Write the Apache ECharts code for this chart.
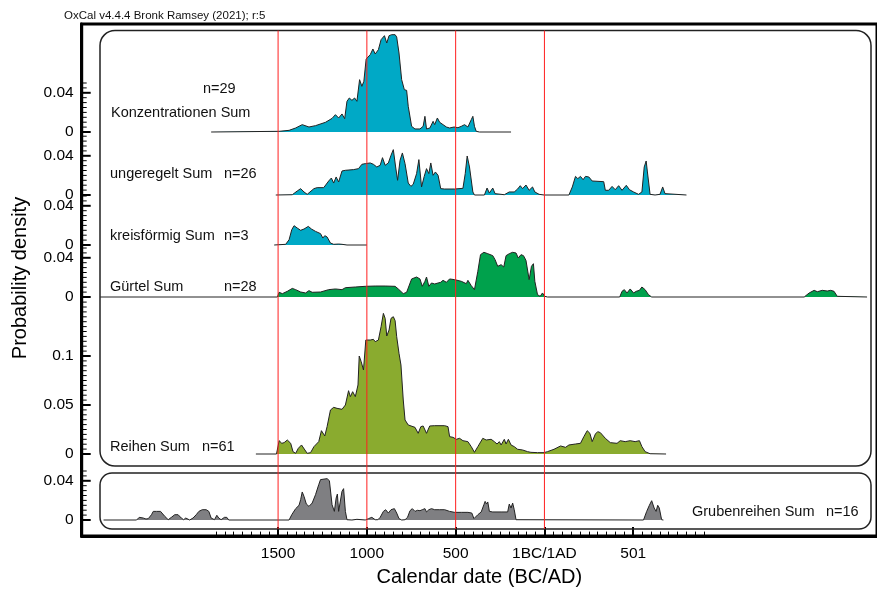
<!DOCTYPE html>
<html><head><meta charset="utf-8">
<script src="https://cdn.jsdelivr.net/npm/echarts@6/dist/echarts.min.js"></script>
<style>html,body{margin:0;padding:0;background:#fff}#c{width:877px;height:592px}</style>
</head><body><div id="c"></div>
<script>
// ---------- DATA (years: negative = BC, positive = AD; values: probability density) ----------
const konzYears = [-1877,-1494,-1438,-1401,-1364,-1326,-1289,-1233,-1196,-1177,-1159,-1140,-1125,-1112,-1099,-1084,-1069,-1056,-1041,-1028,-1017,-1004,-981,-966,-953,-935,-920,-901,-888,-875,-860,-841,-832,-819,-804,-789,-776,-767,-748,-729,-701,-683,-673,-664,-645,-627,-618,-603,-590,-571,-552,-534,-509,-487,-468,-450,-431,-412,-403,-394,-384,-366,-188];
const konzValues = [0,0.0007,0.0017,0.0041,0.0075,0.0051,0.0065,0.0099,0.0139,0.0177,0.0143,0.0184,0.0136,0.0313,0.0347,0.0323,0.0347,0.0313,0.0534,0.0466,0.0517,0.0745,0.0789,0.0847,0.0796,0.084,0.0942,0.0983,0.0908,0.0983,0.0993,0.0993,0.0969,0.0806,0.0534,0.0432,0.0425,0.0262,0.0058,0.0031,0.0031,0.0058,0.016,0.0031,0.0041,0.0109,0.0075,0.0143,0.0099,0.0075,0.0051,0.0041,0.0051,0.0044,0.0058,0.0075,0.0051,0.0126,0.016,0.0058,0.0007,0,0];

const ungYears = [-1513,-1420,-1392,-1373,-1354,-1336,-1298,-1280,-1243,-1215,-1200,-1187,-1173,-1159,-1140,-1121,-1075,-1047,-1028,-1009,-981,-963,-944,-925,-912,-897,-879,-864,-851,-838,-827,-813,-800,-785,-767,-752,-739,-720,-707,-692,-677,-664,-651,-640,-627,-614,-599,-584,-562,-506,-459,-446,-435,-422,-403,-394,-338,-323,-310,-291,-278,-226,-198,-170,-151,-136,-123,-104,-86,-67,-54,-30,-2,138,157,175,188,203,218,231,250,269,334,343,362,381,399,418,437,461,479,502,530,549,562,573,580,595,623,651,666,679,688,800];
const ungValues = [0,0.0003,0.0041,0.0065,0.0031,0.0007,0.0065,0.0075,0.0075,0.0143,0.0173,0.0122,0.0184,0.0133,0.0245,0.0252,0.0259,0.0269,0.0313,0.032,0.0327,0.0313,0.0286,0.0303,0.0381,0.0303,0.0327,0.0405,0.0463,0.0286,0.015,0.0354,0.0429,0.032,0.0122,0.0088,0.0109,0.0218,0.0361,0.0082,0.019,0.0269,0.0218,0.0327,0.0201,0.0235,0.0201,0.0065,0.0061,0.0061,0.0068,0.0218,0.0398,0.0286,0.0031,0,0,0.0071,0.002,0.0071,0.0014,0.0003,0.0031,0.0031,0.0061,0.0095,0.0065,0.0102,0.0048,0.0082,0.0031,0.0007,0,0,0.0082,0.019,0.0167,0.019,0.0156,0.019,0.0184,0.0143,0.0136,0.0048,0.0048,0.0088,0.0054,0.0095,0.0048,0.0099,0.0054,0.0031,0.0007,0.0031,0.0286,0.0347,0.0235,0.0007,0,0.0007,0.0082,0.0014,0,0];

const kreisYears = [-1522,-1457,-1438,-1423,-1410,-1392,-1373,-1354,-1330,-1312,-1289,-1261,-1248,-1237,-1224,-1205,-1187,-1159,-1140,-1131,-1112,-1000];
const kreisValues = [0,0.0007,0.0054,0.0156,0.0197,0.0173,0.015,0.0163,0.019,0.0163,0.0139,0.0116,0.0071,0.0095,0.0082,0.002,0.0007,0.001,0.0007,0.0017,0,0];

const guertelYears = [-2502,-1504,-1494,-1476,-1448,-1420,-1401,-1373,-1345,-1326,-1308,-1261,-1215,-1177,-1140,-1121,-1065,-1009,-953,-897,-841,-823,-795,-776,-748,-720,-701,-688,-673,-664,-651,-636,-618,-599,-584,-571,-552,-534,-506,-468,-440,-431,-412,-394,-375,-360,-341,-319,-291,-278,-263,-244,-229,-216,-198,-179,-160,-147,-132,-118,-104,-86,-73,-62,-54,-39,-24,-11,2,17,424,437,450,465,483,502,517,535,549,567,586,604,1463,1491,1519,1537,1565,1593,1612,1631,1640,1649,1659,1817];
const guertelValues = [0,0,0.0048,0.0034,0.0058,0.0088,0.0075,0.0051,0.0041,0.0065,0.0048,0.0051,0.0075,0.0082,0.0075,0.0095,0.0102,0.0109,0.0112,0.0112,0.0109,0.0082,0.0034,0.0048,0.0184,0.0204,0.0184,0.0109,0.016,0.0204,0.0109,0.0143,0.0133,0.0143,0.015,0.017,0.015,0.0184,0.0177,0.016,0.0136,0.017,0.0116,0.0075,0.0262,0.0432,0.0456,0.0442,0.0422,0.0381,0.0313,0.033,0.0306,0.0422,0.0442,0.0456,0.0449,0.0398,0.0432,0.0422,0.0374,0.0177,0.0313,0.034,0.016,0.0024,0.0007,0.0041,0.0007,0,0,0.0058,0.0075,0.0041,0.0082,0.0041,0.0058,0.0068,0.0102,0.0075,0.0024,0,0,0.0041,0.0068,0.0054,0.0068,0.0061,0.0068,0.0058,0.0068,0.0007,0,0];

const reihenYears = [-1625,-1509,-1494,-1479,-1466,-1448,-1429,-1416,-1401,-1386,-1368,-1349,-1336,-1317,-1298,-1271,-1256,-1237,-1224,-1205,-1187,-1168,-1140,-1121,-1103,-1093,-1080,-1065,-1050,-1043,-1032,-1019,-1006,-981,-963,-953,-935,-920,-907,-897,-888,-875,-864,-851,-841,-832,-819,-808,-795,-785,-767,-729,-711,-696,-683,-664,-655,-646,-618,-562,-543,-534,-515,-496,-478,-459,-431,-412,-394,-375,-347,-328,-300,-282,-267,-254,-244,-226,-216,-203,-188,-170,-151,-123,-95,-76,-39,-2,17,54,91,119,138,175,203,222,241,256,269,287,300,315,343,371,409,427,455,483,511,535,549,567,595,685];
const reihenValues = [0,0,0.0136,0.0109,0.0116,0.0143,0.0109,0.0024,0.0007,0.0058,0.0092,0.0041,0.0007,0.0014,0.0075,0.0126,0.0238,0.0184,0.0279,0.0449,0.0476,0.0466,0.0456,0.05,0.0646,0.0585,0.0636,0.0585,0.0704,0.1,0.0942,0.0857,0.1163,0.1163,0.117,0.1146,0.1163,0.1299,0.1435,0.1384,0.1204,0.1265,0.1384,0.1401,0.1361,0.1197,0.1027,0.0908,0.0551,0.0347,0.0296,0.0272,0.0211,0.0279,0.0286,0.0211,0.0194,0.0286,0.0289,0.0289,0.0279,0.0177,0.017,0.015,0.016,0.0136,0.0126,0.0075,0.0017,0.0075,0.016,0.0143,0.015,0.0126,0.0102,0.0126,0.0092,0.015,0.0102,0.015,0.0092,0.0075,0.0048,0.0041,0.0024,0.0017,0.0014,0.0014,0.0024,0.0048,0.0082,0.0068,0.0092,0.0102,0.0109,0.0177,0.0238,0.0211,0.0126,0.0204,0.0228,0.0218,0.016,0.0116,0.0109,0.0136,0.0126,0.0136,0.0126,0.0136,0.0075,0.0024,0.0003,0];

const grubenYears = [-2483,-2297,-2282,-2271,-2259,-2244,-2231,-2213,-2203,-2185,-2175,-2162,-2151,-2138,-2119,-2101,-2082,-2063,-2045,-2032,-2020,-2013,-1998,-1979,-1961,-1946,-1927,-1905,-1890,-1877,-1858,-1845,-1834,-1821,-1802,-1789,-1778,-1438,-1423,-1401,-1382,-1373,-1364,-1354,-1341,-1326,-1308,-1289,-1271,-1261,-1252,-1224,-1211,-1196,-1183,-1173,-1166,-1159,-1149,-1140,-1131,-1121,-1112,-1084,-1056,-1009,-991,-972,-953,-938,-925,-907,-894,-879,-864,-845,-832,-819,-804,-785,-771,-757,-744,-729,-715,-701,-688,-673,-664,-651,-636,-618,-590,-562,-534,-506,-468,-431,-409,-397,-390,-375,-356,-341,-334,-326,-319,-310,-291,-244,-207,-198,-188,-179,-170,-160,-151,558,576,591,604,618,629,638,647,660,670];
const grubenValues = [0,0,0.0027,0.0044,0.002,0.001,0.0014,0.0054,0.0088,0.0088,0.0082,0.0088,0.0071,0.0037,0.0003,0.0027,0.0054,0.0054,0.002,0.0003,0.002,0.0027,0,0.002,0.0054,0.0088,0.0105,0.0105,0.0088,0.002,0.0003,0.0048,0.002,0.0003,0.0027,0.0027,0,0,0.0054,0.0116,0.015,0.0207,0.0286,0.0241,0.0163,0.0139,0.0173,0.0259,0.0361,0.0412,0.0422,0.0422,0.0401,0.0156,0.0088,0.0224,0.0265,0.0088,0.0105,0.0293,0.032,0.0088,0.0003,0,0.0007,0,0.0014,0.0027,0.0003,0.0003,0.0027,0.0088,0.0105,0.0071,0.0105,0.0116,0.0071,0.0014,0,0.0003,0.0027,0.0095,0.0116,0.0088,0.0099,0.0095,0.0105,0.0116,0.0082,0.0105,0.0116,0.0105,0.0105,0.0105,0.0088,0.0078,0.0078,0.0078,0.0071,0.0014,0.0003,0.0054,0.0082,0.0156,0.019,0.0163,0.0184,0.0088,0.0082,0.0082,0.0082,0.0163,0.0122,0.0173,0.0105,0.0003,0,0,0.0088,0.015,0.0197,0.0122,0.0088,0.015,0.0122,0.0003,0];

const panelNames = ['Konzentrationen Sum','ungeregelt Sum','kreisförmig Sum','Gürtel Sum','Reihen Sum','Grubenreihen Sum'];
const panelCounts = ['n=29','n=26','n=3','n=28','n=61','n=16'];
const panelYTicks = [[0,0.04],[0,0.04],[0,0.04],[0,0.04],[0,0.05,0.1],[0,0.04]];
const yMinorStep = 0.005;

const xTickValues = [-1500,-1000,-500,0,500];
const xTickLabels = ['1500','1000','500','1BC/1AD','501'];
const redLineYears = [-1500,-1000,-500,0];
const titleText = 'OxCal v4.4.4 Bronk Ramsey (2021); r:5';
const xAxisTitle = 'Calendar date (BC/AD)';
const yAxisTitle = 'Probability density';

// ---------- LAYOUT / STYLE ----------
const FONT = '"Liberation Sans", Arial, sans-serif';
const TEAL = '#00a9c6', GREEN = '#00a14c', OLIVE = '#8aab2f', GRAY = '#7f7f82';
const GL = 81.7, GR = -5;           // grid left / right (px)
const X_MIN = -2606, X_MAX = 1873;  // axis extent matching the frame
const PX_PER_UNIT = 980;
const panelSeries = [[konzYears,konzValues],[ungYears,ungValues],[kreisYears,kreisValues],[guertelYears,guertelValues],[reihenYears,reihenValues],[grubenYears,grubenValues]];
const panelLayout = [
  {zero:132, top:0.05,  color:TEAL,  nameAt:[111,113], nAt:[203,89]},
  {zero:195, top:0.06,  color:TEAL,  nameAt:[110,174], nAt:[224,174]},
  {zero:245, top:0.05,  color:TEAL,  nameAt:[110,236], nAt:[224,236]},
  {zero:297, top:0.05,  color:GREEN, nameAt:[110,287], nAt:[224,287]},
  {zero:454, top:0.155, color:OLIVE, nameAt:[110,447], nAt:[202,447]},
  {zero:520, top:0.05,  color:GRAY,  nameAt:[692,512], nAt:[826,512]}
];

const minorXTicks = [];
for (let v = -1850; v <= 900; v += 50) if (xTickValues.indexOf(v) < 0) minorXTicks.push(v);

const grids = [], xAxes = [], yAxes = [], series = [], graphics = [];

// outer frame
grids.push({left:GL, right:GR, top:24, bottom:49, show:true, borderColor:'#000', borderWidth:3, backgroundColor:'transparent'});
xAxes.push({gridIndex:0, type:'value', min:X_MIN, max:X_MAX, position:'bottom',
  axisLine:{show:true, onZero:false, lineStyle:{color:'#000', width:3}},
  axisTick:{show:true, inside:true, length:9, lineStyle:{color:'#000', width:2}, customValues:xTickValues},
  axisLabel:{show:true, customValues:xTickValues, formatter:v => xTickLabels[xTickValues.indexOf(v)], margin:10, fontSize:15.5, color:'#000', fontFamily:FONT},
  splitLine:{show:false},
  name:xAxisTitle, nameLocation:'middle', nameGap:26, nameTextStyle:{fontSize:20, color:'#000', fontFamily:FONT}});
xAxes.push({gridIndex:0, type:'value', min:X_MIN, max:X_MAX, position:'bottom',
  axisLine:{show:false, onZero:false}, axisTick:{show:true, inside:true, length:4.5, lineStyle:{color:'#000', width:1}, customValues:minorXTicks},
  axisLabel:{show:false}, splitLine:{show:false}});
yAxes.push({gridIndex:0, type:'value', min:0, max:1, position:'left', axisLine:{show:true, onZero:false, lineStyle:{color:'#000', width:3}},
  axisTick:{show:false}, axisLabel:{show:false}, splitLine:{show:false}});

// y tick marks drawn through each panel's own y scale
function tickRender(params, api) {
  const p = api.coord([api.value(0), api.value(1)]);
  const major = api.value(2) === 1;
  const len = major ? 9 : 5;
  return {type:'line', shape:{x1:p[0], y1:p[1], x2:p[0] + len, y2:p[1]},
    style:{stroke:'#000', lineWidth: major ? 2 : 1}};
}

// panels
panelLayout.forEach((p, i) => {
  const g = grids.length;
  const h = p.top * PX_PER_UNIT;
  grids.push({left:GL, right:GR, top:p.zero - h, height:h});
  const xi = xAxes.length;
  xAxes.push({gridIndex:g, type:'value', min:X_MIN, max:X_MAX, show:false, axisLine:{onZero:false}});
  const yi = yAxes.length;
  yAxes.push({gridIndex:g, type:'value', min:0, max:p.top, position:'left',
    axisLine:{show:false, onZero:false}, axisTick:{show:false},
    axisLabel:{show:true, customValues:panelYTicks[i], formatter:v => String(v), margin:8, fontSize:15.5, color:'#000', fontFamily:FONT},
    splitLine:{show:false}});
  const [ys, vs] = panelSeries[i];
  series.push({type:'line', name:panelNames[i], xAxisIndex:xi, yAxisIndex:yi,
    data: ys.map((y, k) => [y, vs[k]]), symbol:'none', showSymbol:false, clip:false,
    lineStyle:{color:'#222', width:1}, areaStyle:{color:p.color, opacity:1}, z:2, silent:true});
  // tick data: [x at axis, tick value, isMajor]
  const ticks = [];
  const nMinor = Math.round(p.top / yMinorStep);
  for (let k = 0; k <= nMinor; k++) {
    const v = +(k * yMinorStep).toFixed(4);
    if (!panelYTicks[i].some(t => Math.abs(t - v) < 1e-9)) ticks.push([X_MIN, v, 0]);
  }
  panelYTicks[i].forEach(t => ticks.push([X_MIN, t, 1]));
  series.push({type:'custom', xAxisIndex:xi, yAxisIndex:yi, silent:true, z:6, clip:false,
    data: ticks, renderItem: tickRender, encode:{x:0, y:1}});
  graphics.push({type:'text', x:p.nameAt[0], y:p.nameAt[1], z:10,
    style:{text:panelNames[i], fontSize:14.5, fontFamily:FONT, fill:'#111', align:'left', verticalAlign:'middle'}});
  graphics.push({type:'text', x:p.nAt[0], y:p.nAt[1], z:10,
    style:{text:panelCounts[i], fontSize:14.5, fontFamily:FONT, fill:'#111', align:'left', verticalAlign:'middle'}});
});

// red reference lines (one vertical line series per year, spanning the red grid)
const rg = grids.length;
grids.push({left:GL, right:GR, top:30.5, bottom:63});
const rxi = xAxes.length;
xAxes.push({gridIndex:rg, type:'value', min:X_MIN, max:X_MAX, show:false, axisLine:{onZero:false}});
const ryi = yAxes.length;
yAxes.push({gridIndex:rg, type:'value', min:0, max:1, show:false, axisLine:{onZero:false}});
redLineYears.forEach(v => {
  series.push({type:'line', xAxisIndex:rxi, yAxisIndex:ryi, data:[[v,0],[v,1]], symbol:'none', showSymbol:false,
    silent:true, z:5, lineStyle:{color:'#ff1f1f', width:1}});
});

// rounded panel boxes, titles
graphics.push({type:'rect', z:1, shape:{x:100, y:30.5, width:771, height:435.5, r:15}, style:{fill:'none', stroke:'#222', lineWidth:1.5}});
graphics.push({type:'rect', z:1, shape:{x:100, y:473, width:771, height:56, r:12}, style:{fill:'none', stroke:'#222', lineWidth:1.5}});
graphics.push({type:'text', x:64, y:16, z:10, style:{text:titleText, fontSize:11.5, fontFamily:FONT, fill:'#111', align:'left', verticalAlign:'middle'}});
graphics.push({type:'text', x:20, y:278, rotation:Math.PI/2, z:10, style:{text:yAxisTitle, fontSize:20, fontFamily:FONT, fill:'#000', align:'center', verticalAlign:'middle'}});

const chart = echarts.init(document.getElementById('c'), null, {renderer:'canvas'});
chart.setOption({animation:false, backgroundColor:'#fff', textStyle:{fontFamily:FONT},
  grid:grids, xAxis:xAxes, yAxis:yAxes, series:series, graphic:graphics});
</script></body></html>
